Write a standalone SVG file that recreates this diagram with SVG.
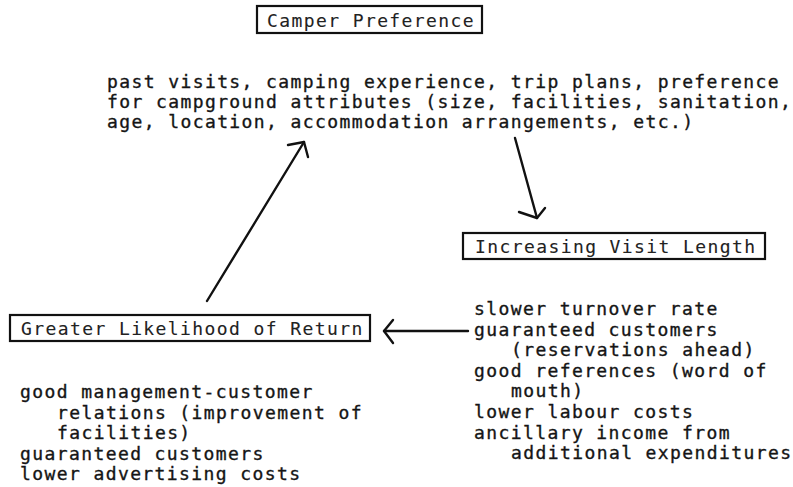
<svg xmlns="http://www.w3.org/2000/svg" width="793" height="487" viewBox="0 0 793 487">
  <style>
    text { font-family: "DejaVu Sans Mono", "Liberation Mono", monospace; font-size: 18px; letter-spacing: 1.4px; fill: #151515; stroke: #151515; stroke-width: 0.35px; }
    text.title { stroke-width: 0.1px; fill: #222; stroke: #222; }
    .box { fill: none; stroke: #111; stroke-width: 2.2; }
    .conn { fill: none; stroke: #111; stroke-width: 2.4; stroke-linecap: round; stroke-linejoin: round; }
  </style>
  <rect width="793" height="487" fill="#fff"/>

  <g id="camper-preference">
    <rect class="box" x="257" y="6" width="225" height="27"/>
    <text class="title" x="267" y="27">Camper Preference</text>
    <text x="107" y="88">past visits, camping experience, trip plans, preference</text>
    <text x="107" y="108">for campground attributes (size, facilities, sanitation,</text>
    <text x="107" y="128">age, location, accommodation arrangements, etc.)</text>
  </g>

  <g id="increasing-visit-length">
    <rect class="box" x="463" y="233" width="302" height="26"/>
    <text class="title" x="475" y="253">Increasing Visit Length</text>
    <text x="474" y="315">slower turnover rate</text>
    <text x="474" y="335.6">guaranteed customers</text>
    <text x="511" y="356">(reservations ahead)</text>
    <text x="474" y="376.8">good references (word of</text>
    <text x="511" y="397.4">mouth)</text>
    <text x="474" y="418">lower labour costs</text>
    <text x="474" y="438.6">ancillary income from</text>
    <text x="511" y="459.2">additional expenditures</text>
  </g>

  <g id="greater-likelihood-of-return">
    <rect class="box" x="10" y="315" width="360" height="26"/>
    <text class="title" x="21" y="335">Greater Likelihood of Return</text>
    <text x="20" y="398">good management-customer</text>
    <text x="57" y="418.5">relations (improvement of</text>
    <text x="57" y="439">facilities)</text>
    <text x="20" y="459.5">guaranteed customers</text>
    <text x="20" y="480">lower advertising costs</text>
  </g>

  <g id="connectors">
    <!-- preference to visit length -->
    <path class="conn" d="M515 138 L537 218"/>
    <path class="conn" d="M519 212 L537 218 L545 208"/>
    <!-- visit length to likelihood of return -->
    <path class="conn" d="M468 331 L384 331"/>
    <path class="conn" d="M393 320 L384 331 L393 343"/>
    <!-- likelihood of return back to preference -->
    <path class="conn" d="M207 301 L304 142"/>
    <path class="conn" d="M288 145 L304 142 L308 157"/>
  </g>
</svg>
